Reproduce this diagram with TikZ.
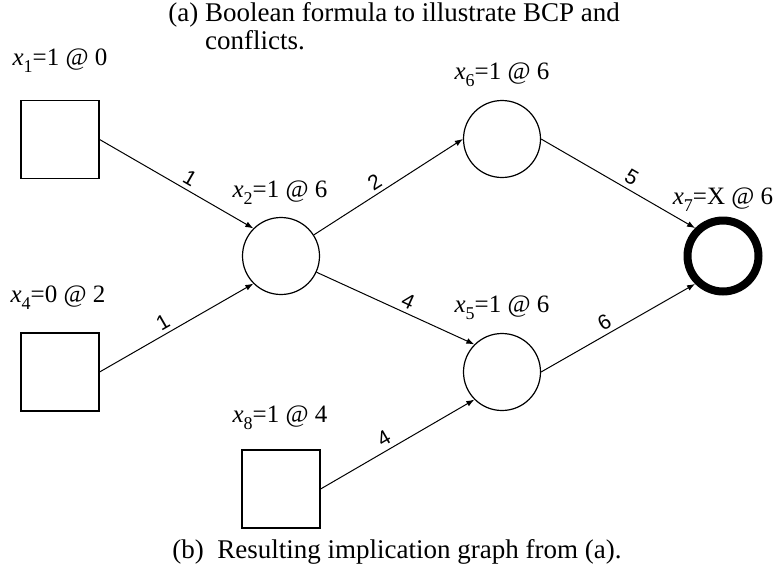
\documentclass[tikz,border=0pt]{standalone}
\usepackage{fontspec}
\setmainfont{Liberation Serif}
\newfontfamily\weightfont{Liberation Sans}
\usetikzlibrary{arrows.meta}
\newcommand{\assign}[2]{\textit{x}\raisebox{-0.3em}{\fontsize{9}{9}\selectfont #1}=#2}

\begin{document}
\begin{tikzpicture}[x=0.5pt, y=-0.5pt,
        decided/.style={draw, line width=0.6pt, minimum size=39pt, inner sep=0pt},
        implied/.style={draw, circle, line width=0.6pt, minimum size=38.5pt, inner sep=0pt},
        conflict/.style={draw, circle, line width=4pt, minimum size=35.5pt, inner sep=0pt},
        varlabel/.style={anchor=base, inner sep=0pt, font=\fontsize{12.5}{15}\selectfont},
        imp/.style={-{Latex[length=4pt, width=3pt]}, line width=0.5pt},
        weight/.style={sloped, above, inner sep=2pt, font=\weightfont\fontsize{10.5}{11}\selectfont}]
        \useasboundingbox (0,0) rectangle (777,579);

        % Caption of the formula part
        \node[anchor=west, inner sep=0pt, font=\fontsize{13.5}{13.5}\selectfont] (capa) at (168,30) {%
            \begin{tabular}{@{}l@{ }l@{}}
                (a) & Boolean formula to illustrate BCP and\\
                    & conflicts.
            \end{tabular}};

        % Decision nodes
        \node[decided] (x1) at (60,139.5) {};
        \node[decided] (x4) at (60,372) {};
        \node[decided] (x8) at (281,489) {};

        % Implied nodes
        \node[implied] (x2) at (281,256) {};
        \node[implied] (x6) at (502,139) {};
        \node[implied] (x5) at (502,372) {};
        \node[conflict] (x7) at (723,256) {};

        \node[varlabel] (lx1) at (60,65) {\assign{1}{1 @ 0}};
        \node[varlabel] (lx4) at (58,302) {\assign{4}{0 @ 2}};
        \node[varlabel] (lx8) at (280,422) {\assign{8}{1 @ 4}};
        \node[varlabel] (lx2) at (280,197) {\assign{2}{1 @ 6}};
        \node[varlabel] (lx6) at (502,79) {\assign{6}{1 @ 6}};
        \node[varlabel] (lx5) at (502,312) {\assign{5}{1 @ 6}};
        \node[varlabel] (lx7) at (723,204) {\assign{7}{X @ 6}};

        % Implications
        \draw[imp] (x1.east) -- node[weight, pos=0.55] {1} (x2.north west);
        \draw[imp] (x4.east) -- node[weight, pos=0.45] {1} (x2.south west);
        \draw[imp] (x2) -- node[weight, pos=0.45] {2} (x6.west);
        \draw[imp] (x2) -- node[weight, pos=0.55] {4} (x5.north west);
        \draw[imp] (x8.east) -- node[weight, pos=0.45] {4} (x5.south west);
        \draw[imp] (x6.east) -- node[weight, pos=0.55] {5} (x7.north west);
        \draw[imp] (x5.east) -- node[weight, pos=0.45] {6} (x7.south west);

        \node[anchor=base west, inner sep=0pt, font=\fontsize{13.5}{13.5}\selectfont] (capb) at (172,558)
            {(b)\ \ Resulting implication graph from (a).};
    \end{tikzpicture}
\end{document}
